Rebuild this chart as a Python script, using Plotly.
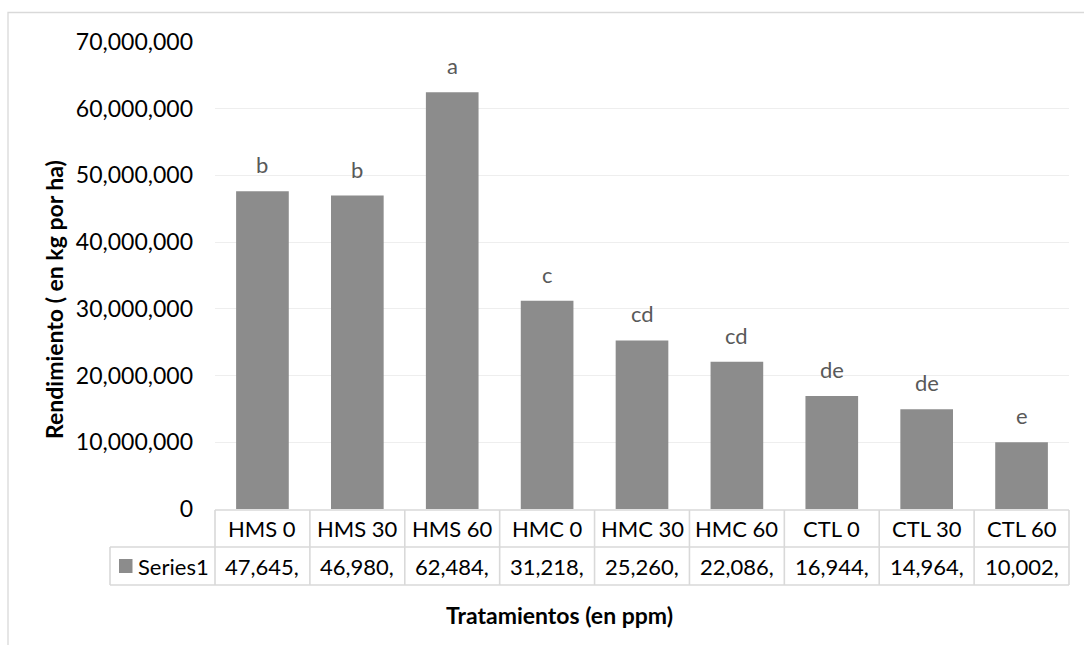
import plotly.graph_objects as go

# ---- data ----
categories = ["HMS 0", "HMS 30", "HMS 60", "HMC 0", "HMC 30", "HMC 60", "CTL 0", "CTL 30", "CTL 60"]
yield_values = [47645000, 46980000, 62484000, 31218000, 25260000, 22086000, 16944000, 14964000, 10002000]
letters = ["b", "b", "a", "c", "cd", "cd", "de", "de", "e"]
series_name = "Series1"
y_tick_values = [0, 10000000, 20000000, 30000000, 40000000, 50000000, 60000000, 70000000]
y_title = "Rendimiento ( en kg por ha)"
x_title = "Tratamientos (en ppm)"

# ---- layout geometry (pixels) ----
W, H = 1084, 645
L, R, T, B = 215, 1069, 42, 509
PW, PH = R - L, B - T


def px(x):
    return (x - L) / PW


def py(y):
    return (B - y) / PH


FONT = "Lato"
BAR_COLOR = "#8c8c8c"
LINE_COLOR = "#d9d9d9"
TEXT_COLOR = "#000000"

fig = go.Figure()
fig.add_trace(go.Bar(
    x=categories, y=yield_values, name=series_name,
    marker=dict(color=BAR_COLOR, line=dict(width=0)),
    width=0.555, showlegend=False, hoverinfo="x+y",
))

annotations = []
shapes = []

# significance letters above bars
for c, v, t in zip(categories, yield_values, letters):
    annotations.append(dict(x=c, y=v, xref="x", yref="y", text=t, showarrow=False,
                            yanchor="bottom", yshift=11,
                            font=dict(family=FONT, size=22, color="#595959")))

# data table: header row (categories) and values row
row1_top, row1_bot, row2_bot = 510, 547, 585
legend_left = 110
n = len(categories)
for i, (c, v) in enumerate(zip(categories, yield_values)):
    annotations.append(dict(x=c, xref="x", y=py((row1_top + row1_bot) / 2), yref="paper",
                            text=c, showarrow=False, yanchor="middle",
                            font=dict(family=FONT, size=22, color=TEXT_COLOR)))
    annotations.append(dict(x=c, xref="x", y=py((row1_bot + row2_bot) / 2), yref="paper",
                            text=f"{v:,}"[:7], showarrow=False, yanchor="middle",
                            font=dict(family=FONT, size=22, color=TEXT_COLOR)))

line = dict(color=LINE_COLOR, width=1.6)
# horizontal table lines
shapes.append(dict(type="line", xref="paper", yref="paper", x0=0, x1=1,
                   y0=py(row1_top), y1=py(row1_top), line=line))
for yy in (row1_bot, row2_bot):
    shapes.append(dict(type="line", xref="paper", yref="paper", x0=px(legend_left), x1=1,
                       y0=py(yy), y1=py(yy), line=line))
# vertical table lines
for k in range(n + 1):
    shapes.append(dict(type="line", xref="paper", yref="paper", x0=k / n, x1=k / n,
                       y0=py(row1_top), y1=py(row2_bot), line=line))
shapes.append(dict(type="line", xref="paper", yref="paper", x0=px(legend_left), x1=px(legend_left),
                   y0=py(row1_bot), y1=py(row2_bot), line=line))

# legend key inside table
shapes.append(dict(type="rect", xref="paper", yref="paper", x0=px(119), x1=px(132.5),
                   y0=py(573), y1=py(559), fillcolor=BAR_COLOR, line=dict(width=0)))
annotations.append(dict(x=px(136), xref="paper", y=py((row1_bot + row2_bot) / 2), yref="paper",
                        text=series_name, showarrow=False, xanchor="left", yanchor="middle",
                        font=dict(family=FONT, size=22, color=TEXT_COLOR)))

# chart area border (left and top visible)
shapes.append(dict(type="rect", xref="paper", yref="paper", x0=px(8), x1=px(1100),
                   y0=py(12.5), y1=py(700), line=dict(color="#d9d9d9", width=1.3),
                   layer="below"))

# axis titles
annotations.append(dict(x=px(54), xref="paper", y=py(300), yref="paper", text=f"<b>{y_title}</b>",
                        textangle=-90, showarrow=False, xanchor="center", yanchor="middle",
                        font=dict(family=FONT, size=23, color=TEXT_COLOR)))
annotations.append(dict(x=px(559), xref="paper", y=py(615), yref="paper", text=f"<b>{x_title}</b>",
                        showarrow=False, xanchor="center", yanchor="middle",
                        font=dict(family=FONT, size=23, color=TEXT_COLOR)))

fig.update_layout(
    width=W, height=H,
    margin=dict(l=L, r=W - R, t=T, b=H - B, pad=0),
    paper_bgcolor="white", plot_bgcolor="white",
    bargap=0.445,
    annotations=annotations, shapes=shapes,
    font=dict(family=FONT, color=TEXT_COLOR),
    xaxis=dict(range=[-0.5, n - 0.5], showticklabels=False, showgrid=False, zeroline=False,
               showline=False, ticks=""),
    yaxis=dict(range=[0, 70000000], tickvals=y_tick_values, tickformat=",",
               showgrid=True, gridcolor="#eeeeee", gridwidth=1.3, zeroline=False,
               showline=False, ticks="", ticklabelstandoff=21,
               tickfont=dict(family=FONT, size=23, color=TEXT_COLOR)),
)

fig.write_html("out.html")
